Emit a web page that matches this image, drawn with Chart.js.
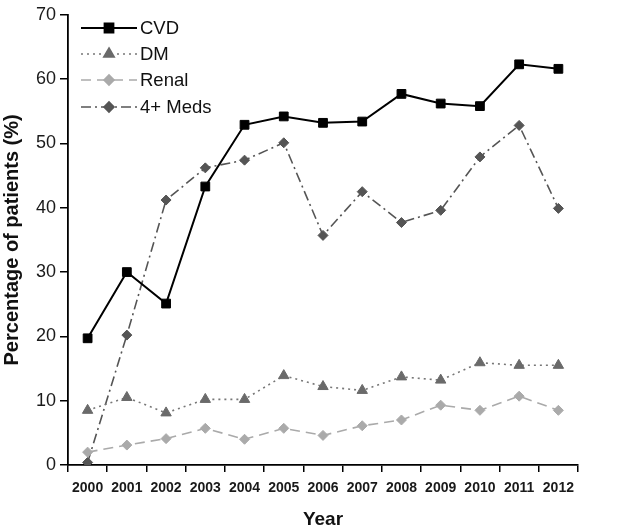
<!DOCTYPE html>
<html>
<head>
<meta charset="utf-8">
<script src="https://cdn.jsdelivr.net/npm/chart.js@4/dist/chart.umd.min.js"></script>
<style>
html,body{margin:0;padding:0;background:#fff;}
#wrap{width:636px;height:531px;position:relative;}
</style>
</head>
<body>
<div id="wrap"><canvas id="c" width="636" height="531"></canvas></div>
<script>
const years = ['2000','2001','2002','2003','2004','2005','2006','2007','2008','2009','2010','2011','2012'];
const cvd    = [19.7, 30.0, 25.1, 43.3, 52.9, 54.2, 53.2, 53.4, 57.7, 56.2, 55.8, 62.3, 61.6];
const dm     = [8.5, 10.5, 8.1, 10.2, 10.2, 13.9, 12.2, 11.6, 13.7, 13.2, 15.9, 15.5, 15.5];
const renal  = [2.0, 3.1, 4.1, 5.7, 4.0, 5.7, 4.6, 6.1, 7.0, 9.3, 8.5, 10.7, 8.5];
const meds4  = [0.4, 20.2, 41.2, 46.2, 47.4, 50.1, 35.7, 42.5, 37.7, 39.6, 47.9, 52.8, 39.9];
const seriesNames = ['CVD', 'DM', 'Renal', '4+ Meds'];
const yTicks = [0, 10, 20, 30, 40, 50, 60, 70];

Chart.defaults.font.family = "'Liberation Sans', Arial, sans-serif";
Chart.defaults.color = '#1a1a1a';

const legendPlugin = {
  id: 'insideLegend',
  afterDatasetsDraw(chart) {
    const ctx = chart.ctx;
    const rows = [28, 54, 80, 107];
    chart.data.datasets.forEach((ds, i) => {
      const y = rows[i];
      ctx.save();
      ctx.strokeStyle = ds.borderColor;
      ctx.lineWidth = ds.borderWidth;
      ctx.setLineDash(ds.borderDash || []);
      ctx.beginPath();
      ctx.moveTo(81, y);
      ctx.lineTo(137, y);
      ctx.stroke();
      ctx.setLineDash([]);
      ctx.fillStyle = ds.pointBackgroundColor;
      ctx.strokeStyle = ds.pointBorderColor;
      Chart.helpers.drawPoint(ctx, {pointStyle: ds.pointStyle, radius: ds.pointRadius, rotation: 0, borderWidth: 1}, 109, y);
      ctx.fillStyle = '#111';
      ctx.font = "18.5px 'Liberation Sans', Arial, sans-serif";
      ctx.textBaseline = 'middle';
      ctx.textAlign = 'left';
      ctx.fillText(ds.label, 140, y + 1);
      ctx.restore();
    });
  }
};

new Chart(document.getElementById('c'), {
  type: 'line',
  data: {
    labels: years,
    datasets: [
      {label: seriesNames[0], data: cvd, borderColor: '#000', borderWidth: 2, borderDash: [],
       pointStyle: 'rect', pointRadius: 6.2, pointBackgroundColor: '#000', pointBorderColor: '#000', pointBorderWidth: 1},
      {label: seriesNames[1], data: dm, borderColor: '#777', borderWidth: 1.6, borderDash: [2, 4],
       pointStyle: 'triangle', pointRadius: 6, pointBackgroundColor: '#6a6a6a', pointBorderColor: '#6a6a6a', pointBorderWidth: 1},
      {label: seriesNames[2], data: renal, borderColor: '#aaa', borderWidth: 1.6, borderDash: [10, 6],
       pointStyle: 'rectRot', pointRadius: 5, pointBackgroundColor: '#aaa', pointBorderColor: '#aaa', pointBorderWidth: 1},
      {label: seriesNames[3], data: meds4, borderColor: '#555', borderWidth: 1.6, borderDash: [10, 4, 2, 4],
       pointStyle: 'rectRot', pointRadius: 5, pointBackgroundColor: '#555', pointBorderColor: '#555', pointBorderWidth: 1}
    ]
  },
  options: {
    responsive: false,
    animation: false,
    layout: {padding: {top: 13, right: 58, left: 0, bottom: 0}},
    plugins: {legend: {display: false}, tooltip: {enabled: false}},
    scales: {
      x: {
        offset: true,
        grid: {display: true, drawOnChartArea: false, drawTicks: true, tickLength: 7, color: '#000', lineWidth: 1.5, offset: true},
        border: {display: true, color: '#000', width: 1.8},
        ticks: {font: {size: 14, weight: 'bold'}, color: '#1a1a1a', padding: 8, maxRotation: 0, autoSkip: false},
        title: {display: true, text: 'Year', font: {size: 19, weight: 'bold'}, color: '#111', padding: {top: 4, bottom: 0}},
        afterFit(scale) { scale.height = 66; }
      },
      y: {
        min: 0, max: 70,
        afterBuildTicks(scale) { scale.ticks = yTicks.map(v => ({value: v})); },
        grid: {display: true, drawOnChartArea: false, drawTicks: true, tickLength: 8, color: '#000', lineWidth: 1.5},
        border: {display: true, color: '#000', width: 1.8},
        ticks: {font: {size: 18}, color: '#1a1a1a', padding: 4},
        title: {display: true, text: 'Percentage of patients (%)', font: {size: 20, weight: 'bold'}, color: '#111', padding: {top: 0, bottom: 0}},
        afterFit(scale) { scale.width = 68; }
      }
    }
  },
  plugins: [legendPlugin]
});
</script>
</body>
</html>
